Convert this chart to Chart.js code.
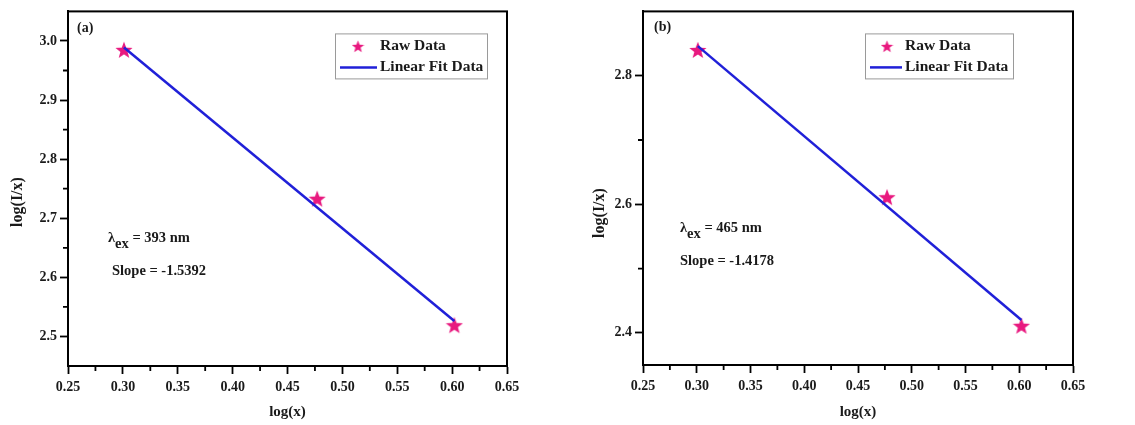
<!DOCTYPE html>
<html>
<head>
<meta charset="utf-8">
<script src="https://cdn.jsdelivr.net/npm/chart.js@4.4.1/dist/chart.umd.min.js"></script>
<style>
  html, body { margin: 0; padding: 0; background: #fff; }
  #wrap { position: relative; width: 1135px; height: 425px; background: #fff; }
  .panel { position: absolute; top: 0; height: 425px; }
</style>
</head>
<body>
<div id="wrap">
  <div class="panel" style="left:0;width:567px"><canvas id="chartA" width="567" height="425"></canvas></div>
  <div class="panel" style="left:567px;width:568px"><canvas id="chartB" width="568" height="425"></canvas></div>
</div>
<script>
// values
const logX = [0.301, 0.477, 0.602];
const fitX = [0.301, 0.602];

const rawA = [2.985, 2.733, 2.519];
const fitA = [2.989, 2.526];
const rawB = [2.840, 2.611, 2.411];
const fitB = [2.846, 2.420];

const xTicks = [0.25, 0.30, 0.35, 0.40, 0.45, 0.50, 0.55, 0.60, 0.65];
const yTicksA = [2.5, 2.6, 2.7, 2.8, 2.9, 3.0];
const yTicksB = [2.4, 2.6, 2.8];

const seriesLabels = ["Raw Data", "Linear Fit Data"];
const notesA = ["393 nm", "Slope = -1.5392"];
const notesB = ["465 nm", "Slope = -1.4178"];

const FONT = "'Liberation Serif', 'Times New Roman', serif";
const STAR_COLOR = "#e8197f";
const LINE_COLOR = "#2020d8";

function makeStar(size, color) {
  const c = document.createElement("canvas");
  c.width = c.height = size;
  const g = c.getContext("2d");
  const R = size / 2, r = R * 0.42, cx = size / 2, cy = size / 2 + R * 0.08;
  g.beginPath();
  for (let i = 0; i < 10; i++) {
    const a = -Math.PI / 2 + i * Math.PI / 5;
    const rad = i % 2 ? r : R;
    g.lineTo(cx + rad * Math.cos(a), cy + rad * Math.sin(a));
  }
  g.closePath();
  g.fillStyle = color;
  g.fill();
  return c;
}

const bigStar = makeStar(18, STAR_COLOR);
const smallStar = makeStar(13, STAR_COLOR);

function midpoints(arr) {
  const out = [];
  for (let i = 0; i < arr.length - 1; i++) out.push((arr[i] + arr[i + 1]) / 2);
  return out;
}

// frame, minor ticks, y title, legend, notes
const decorPlugin = {
  id: "decor",
  afterDraw(chart, args, opts) {
    const ctx = chart.ctx;
    const a = chart.chartArea;
    const xs = chart.scales.x, ys = chart.scales.y;
    ctx.save();

    // frame
    ctx.strokeStyle = "#000";
    ctx.lineWidth = 2;
    ctx.strokeRect(a.left, a.top, a.right - a.left, a.bottom - a.top);

    // minor ticks
    ctx.lineWidth = 1.8;
    ctx.beginPath();
    midpoints(xTicks).forEach(v => {
      const px = xs.getPixelForValue(v);
      ctx.moveTo(px, a.bottom);
      ctx.lineTo(px, a.bottom + 5);
    });
    midpoints(opts.yTicks).forEach(v => {
      const py = ys.getPixelForValue(v);
      ctx.moveTo(a.left, py);
      ctx.lineTo(a.left - 5, py);
    });
    ctx.stroke();

    ctx.fillStyle = "#1a1a1a";
    ctx.textBaseline = "middle";

    // y axis title
    ctx.save();
    ctx.translate(opts.yTitleX, opts.yTitleY);
    ctx.rotate(-Math.PI / 2);
    ctx.textAlign = "center";
    ctx.font = "bold 16px " + FONT;
    ctx.fillText("log(I/x)", 0, 0);
    ctx.restore();

    // panel tag
    ctx.textAlign = "left";
    ctx.font = "bold 14px " + FONT;
    ctx.fillText(opts.tag, a.left + opts.tagDx, a.top + opts.tagDy);

    // notes
    const nx = a.left + opts.noteDx;
    const ny = a.top + opts.noteDy;
    ctx.font = "bold 14.5px " + FONT;
    ctx.fillText("\u03bb", nx, ny);
    let w = ctx.measureText("\u03bb").width;
    ctx.fillText("ex", nx + w, ny + 6);
    w += ctx.measureText("ex").width;
    ctx.fillText(" = " + opts.notes[0], nx + w, ny);
    ctx.fillText(opts.notes[1], nx + opts.slopeDx, ny + opts.slopeDy);

    // legend box
    const lx = a.left + opts.legDx, ly = a.top + opts.legDy;
    ctx.fillStyle = "#fff";
    ctx.fillRect(lx, ly, opts.legW, 45);
    ctx.strokeStyle = "#9a9a9a";
    ctx.lineWidth = 1;
    ctx.strokeRect(lx + 0.5, ly + 0.5, opts.legW, 45);
    ctx.drawImage(smallStar, lx + opts.starDx - 6.5, ly + 13 - 6.5);
    ctx.strokeStyle = LINE_COLOR;
    ctx.lineWidth = 2.5;
    ctx.beginPath();
    ctx.moveTo(lx + 5, ly + 34);
    ctx.lineTo(lx + opts.textDx - 3, ly + 34);
    ctx.stroke();
    ctx.fillStyle = "#1a1a1a";
    ctx.font = "bold 15.5px " + FONT;
    ctx.fillText(seriesLabels[0], lx + opts.textDx, ly + 13);
    ctx.fillText(seriesLabels[1], lx + opts.textDx, ly + 34);

    ctx.restore();
  }
};

function buildChart(canvasId, raw, fit, yTicks, yMin, yMax, pad, yWidth, xHeight, decor) {
  const tickFont = { family: FONT, size: 14, weight: "bold" };
  return new Chart(document.getElementById(canvasId), {
    type: "scatter",
    data: {
      datasets: [
        {
          label: seriesLabels[1],
          data: fitX.map((x, i) => ({ x, y: fit[i] })),
          showLine: true,
          borderColor: LINE_COLOR,
          borderWidth: 2.5,
          pointRadius: 0,
          order: 0
        },
        {
          label: seriesLabels[0],
          data: logX.map((x, i) => ({ x, y: raw[i] })),
          pointStyle: bigStar,
          pointRadius: 9,
          order: 1
        }
      ]
    },
    options: {
      responsive: false,
      animation: false,
      events: [],
      layout: { padding: pad },
      plugins: {
        legend: { display: false },
        tooltip: { enabled: false },
        decor: Object.assign({ yTicks }, decor)
      },
      scales: {
        x: {
          type: "linear",
          min: 0.25,
          max: 0.65,
          afterBuildTicks: s => { s.ticks = xTicks.map(v => ({ value: v })); },
          afterFit: s => { s.height = xHeight; },
          ticks: {
            color: "#1a1a1a",
            font: tickFont,
            padding: 5,
            maxRotation: 0,
            callback: v => Number(v).toFixed(2)
          },
          grid: { drawOnChartArea: false, drawTicks: true, tickLength: 8, tickColor: "#000", tickWidth: 1.8 },
          border: { display: true, color: "#000", width: 2 },
          title: {
            display: true,
            text: "log(x)",
            color: "#1a1a1a",
            font: { family: FONT, size: 15, weight: "bold" },
            padding: { top: 0, bottom: 4 }
          }
        },
        y: {
          type: "linear",
          min: yMin,
          max: yMax,
          afterBuildTicks: s => { s.ticks = yTicks.map(v => ({ value: v })); },
          afterFit: s => { s.width = yWidth; },
          ticks: {
            color: "#1a1a1a",
            font: tickFont,
            padding: 3,
            callback: v => Number(v).toFixed(1)
          },
          grid: { drawOnChartArea: false, drawTicks: true, tickLength: 8, tickColor: "#000", tickWidth: 1.8 },
          border: { display: true, color: "#000", width: 2 }
        }
      }
    },
    plugins: [decorPlugin]
  });
}

buildChart("chartA", rawA, fitA, yTicksA, 2.45, 3.05,
  { left: 0, right: 60, top: 6, bottom: 0 }, 68, 59,
  {
    yTitleX: 18, yTitleY: 202,
    tag: "(a)", tagDx: 9, tagDy: 17,
    notes: notesA, noteDx: 40, noteDy: 227, slopeDx: 4, slopeDy: 33,
    legDx: 267, legDy: 22, legW: 152, starDx: 23, textDx: 45
  });

buildChart("chartB", rawB, fitB, yTicksB, 2.35, 2.9,
  { left: 0, right: 62, top: 8, bottom: 0 }, 76, 60,
  {
    yTitleX: 33, yTitleY: 213,
    tag: "(b)", tagDx: 11, tagDy: 16,
    notes: notesB, noteDx: 37, noteDy: 217, slopeDx: 0, slopeDy: 33,
    legDx: 222, legDy: 22, legW: 148, starDx: 22, textDx: 40
  });
</script>
</body>
</html>
